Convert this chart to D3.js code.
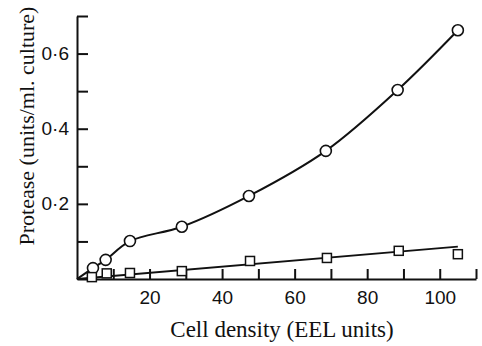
<!DOCTYPE html>
<html>
<head>
<meta charset="utf-8">
<script src="https://cdn.jsdelivr.net/npm/d3@7"></script>
<style>
  body { margin: 0; background: #fff; }
  .tick text { font-family: "Liberation Sans", Arial, sans-serif; font-size: 19px; fill: #111; }
  .label { font-family: "Liberation Serif", "Times New Roman", serif; font-size: 23px; fill: #111; }
</style>
</head>
<body>
<div id="chart"></div>
<script>
// circles: total protease; squares: second series
const circleX = [4.4, 7.9, 14.6, 28.9, 47.4, 68.6, 88.4, 105];
const circleY = [0.029, 0.051, 0.101, 0.139, 0.221, 0.341, 0.503, 0.662];
const squareX = [4.1, 8.2, 14.6, 28.9, 47.7, 68.9, 88.7, 105];
const squareY = [0.005, 0.015, 0.016, 0.021, 0.048, 0.056, 0.075, 0.066];
// fitted straight line through squares
const squareFitX = [0, 105];
const squareFitY = [0, 0.086];

const xTicks = [10, 20, 30, 40, 50, 60, 70, 80, 90, 100, 110];
const xLabels = [20, 40, 60, 80, 100];
const yTicks = [0.1, 0.2, 0.3, 0.4, 0.5, 0.6, 0.7];
const yLabels = [0.2, 0.4, 0.6];

const width = 482, height = 346;
const svg = d3.select("#chart").append("svg")
    .attr("width", width)
    .attr("height", height);

const x = d3.scaleLinear().domain([0, 110]).range([77, 476]);
const y = d3.scaleLinear().domain([0, 0.7]).range([279, 16]);

svg.append("g")
    .attr("transform", `translate(0,${y(0)})`)
    .call(d3.axisBottom(x)
        .tickValues(xTicks)
        .tickSizeInner(-10)
        .tickSizeOuter(0)
        .tickPadding(11.5)
        .tickFormat(d => xLabels.includes(d) ? d : ""))
    .call(g => g.selectAll("path, line").attr("stroke", "#111").attr("stroke-width", 2));

svg.append("g")
    .attr("transform", `translate(${x(0)},0)`)
    .call(d3.axisLeft(y)
        .tickValues(yTicks)
        .tickSizeInner(-11)
        .tickSizeOuter(0)
        .tickPadding(8)
        .tickFormat(d => yLabels.includes(d) ? "0\u00b7" + Math.round(d * 10) : ""))
    .call(g => g.selectAll("path, line").attr("stroke", "#111").attr("stroke-width", 2));

const circleData = [[0, 0]].concat(circleX.map((d, i) => [d, circleY[i]]));
const line = d3.line()
    .x(d => x(d[0]))
    .y(d => y(d[1]))
    .curve(d3.curveCatmullRom.alpha(0.5));

svg.append("path")
    .datum(circleData)
    .attr("d", line)
    .attr("fill", "none")
    .attr("stroke", "#111")
    .attr("stroke-width", 2);

svg.append("path")
    .datum(squareFitX.map((d, i) => [d, squareFitY[i]]))
    .attr("d", d3.line().x(d => x(d[0])).y(d => y(d[1])))
    .attr("fill", "none")
    .attr("stroke", "#111")
    .attr("stroke-width", 1.8);

svg.selectAll("circle.pt")
    .data(circleX)
    .enter().append("circle")
    .attr("class", "pt")
    .attr("cx", d => x(d))
    .attr("cy", (d, i) => y(circleY[i]))
    .attr("r", 5.5)
    .attr("fill", "#fff")
    .attr("stroke", "#111")
    .attr("stroke-width", 1.6);

svg.selectAll("rect.pt")
    .data(squareX)
    .enter().append("rect")
    .attr("class", "pt")
    .attr("x", d => x(d) - 4.5)
    .attr("y", (d, i) => y(squareY[i]) - 4.5)
    .attr("width", 9)
    .attr("height", 9)
    .attr("fill", "#fff")
    .attr("stroke", "#111")
    .attr("stroke-width", 1.5);

svg.append("text")
    .attr("class", "label")
    .attr("x", 282)
    .attr("y", 337)
    .attr("text-anchor", "middle")
    .text("Cell density (EEL units)");

svg.append("text")
    .attr("class", "label")
    .style("font-size", "22px")
    .attr("transform", "translate(34,126) rotate(-90)")
    .attr("text-anchor", "middle")
    .text("Protease (units/ml. culture)");
</script>
</body>
</html>
